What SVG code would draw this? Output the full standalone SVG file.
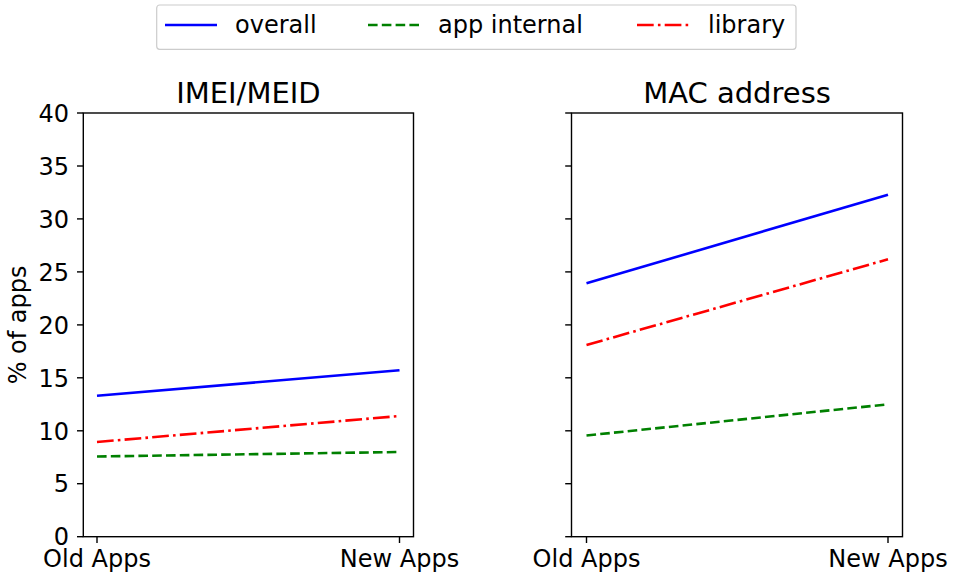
<svg xmlns="http://www.w3.org/2000/svg" width="956" height="579" viewBox="0 0 956 579">
<style>
text{font-family:"DejaVu Sans","Liberation Sans",sans-serif;fill:#000}
.tl{font-size:24px}
.yt{text-anchor:end}
.xt{text-anchor:middle}
.title{font-size:29px;text-anchor:middle}
.spine{fill:none;stroke:#000;stroke-width:1.4}
.tick{stroke:#000;stroke-width:1.4}
.s{fill:none;stroke-width:2.6;stroke-linecap:butt}
.overall{stroke:#0000ff}
.internal{stroke:#008000;stroke-dasharray:9.6 4.2}
.library{stroke:#ff0000;stroke-dasharray:16.7 4.2 2.6 4.2}
</style>
<rect width="956" height="579" fill="#fff"/>
<g id="legend">
<rect x="156.7" y="5" width="639.3" height="44.3" rx="3" fill="#fff" stroke="#cccccc" stroke-width="1.2"/>
<line class="s overall" x1="165" y1="25" x2="217" y2="25"/>
<text class="tl" x="235" y="33">overall</text>
<line class="s internal" x1="368" y1="25" x2="420" y2="25"/>
<text class="tl" x="438" y="33">app internal</text>
<line class="s library" x1="637" y1="25" x2="689" y2="25"/>
<text class="tl" x="708" y="33">library</text>
</g>
<g id="axes-left">
<text class="title" x="248.4" y="103">IMEI/MEID</text>
<rect class="spine" x="83.3" y="113" width="330.2" height="423.7"/>
<g class="tick">
<line x1="77" y1="536.7" x2="83.3" y2="536.7"/>
<line x1="77" y1="483.7" x2="83.3" y2="483.7"/>
<line x1="77" y1="430.8" x2="83.3" y2="430.8"/>
<line x1="77" y1="377.8" x2="83.3" y2="377.8"/>
<line x1="77" y1="324.9" x2="83.3" y2="324.9"/>
<line x1="77" y1="271.9" x2="83.3" y2="271.9"/>
<line x1="77" y1="218.9" x2="83.3" y2="218.9"/>
<line x1="77" y1="166" x2="83.3" y2="166"/>
<line x1="77" y1="113" x2="83.3" y2="113"/>
<line x1="97" y1="536.7" x2="97" y2="543"/>
<line x1="399.5" y1="536.7" x2="399.5" y2="543"/>
</g>
<g class="tl yt">
<text x="69" y="545.4">0</text>
<text x="69" y="492.4">5</text>
<text x="69" y="439.5">10</text>
<text x="69" y="386.5">15</text>
<text x="69" y="333.6">20</text>
<text x="69" y="280.6">25</text>
<text x="69" y="227.6">30</text>
<text x="69" y="174.7">35</text>
<text x="69" y="121.7">40</text>
</g>
<text class="tl xt" x="97" y="567">Old Apps</text>
<text class="tl xt" x="399.5" y="567">New Apps</text>
<text class="tl" transform="translate(26,324.9) rotate(-90)" text-anchor="middle">% of apps</text>
</g>
<g id="axes-right">
<text class="title" x="737" y="103">MAC address</text>
<rect class="spine" x="571.5" y="113" width="331" height="423.7"/>
<g class="tick">
<line x1="565.2" y1="536.7" x2="571.5" y2="536.7"/>
<line x1="565.2" y1="483.7" x2="571.5" y2="483.7"/>
<line x1="565.2" y1="430.8" x2="571.5" y2="430.8"/>
<line x1="565.2" y1="377.8" x2="571.5" y2="377.8"/>
<line x1="565.2" y1="324.9" x2="571.5" y2="324.9"/>
<line x1="565.2" y1="271.9" x2="571.5" y2="271.9"/>
<line x1="565.2" y1="218.9" x2="571.5" y2="218.9"/>
<line x1="565.2" y1="166" x2="571.5" y2="166"/>
<line x1="565.2" y1="113" x2="571.5" y2="113"/>
<line x1="586.5" y1="536.7" x2="586.5" y2="543"/>
<line x1="888" y1="536.7" x2="888" y2="543"/>
</g>
<text class="tl xt" x="586.5" y="567">Old Apps</text>
<text class="tl xt" x="888" y="567">New Apps</text>
</g>
<g id="connectors">
<line class="s internal" x1="97" y1="456.5" x2="399.5" y2="452"/>
<line class="s library" x1="97" y1="442" x2="399.5" y2="416"/>
<line class="s overall" x1="97" y1="395.8" x2="399.5" y2="370.2"/>
<line class="s internal" x1="586.5" y1="435.5" x2="888" y2="404.3"/>
<line class="s library" x1="586.5" y1="345" x2="888" y2="259.3"/>
<line class="s overall" x1="586.5" y1="283.3" x2="888" y2="194.7"/>
</g>
</svg>
